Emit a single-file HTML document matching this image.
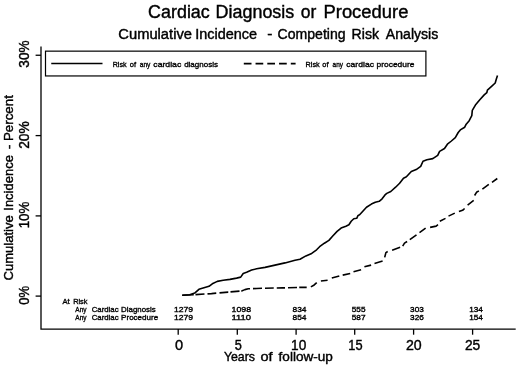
<!DOCTYPE html>
<html><head><meta charset="utf-8"><title>Cardiac Diagnosis or Procedure</title>
<style>
html,body{margin:0;padding:0;background:#fff}
svg{display:block}
text{font-family:"Liberation Sans",Arial,Helvetica,sans-serif;fill:#000;stroke:#000;stroke-width:0.4px;white-space:pre}
.sm{stroke-width:0.35px}
</style></head><body>
<svg width="520" height="368" viewBox="0 0 520 368">
<rect width="520" height="368" fill="#fff"/>
<g stroke="#000" stroke-width="1.3" fill="none" stroke-linecap="butt">
<path d="M41.0,46.4 V329.05 H515.7"/>
<path d="M35.6,296.1 H41.0"/>
<path d="M35.6,215.9 H41.0"/>
<path d="M35.6,135.6 H41.0"/>
<path d="M35.6,55.25 H41.0"/>
<path d="M178.2,329.05 V334.7"/>
<path d="M237.3,329.05 V334.7"/>
<path d="M296.1,329.05 V334.7"/>
<path d="M354.7,329.05 V334.7"/>
<path d="M413.6,329.05 V334.7"/>
<path d="M472.6,329.05 V334.7"/>
<rect x="45.5" y="51.15" width="380.4" height="24.8" stroke-width="1.2"/>
</g>
<path d="M51.25,63.55 H102.5" stroke="#000" stroke-width="1.6" fill="none"/>
<path d="M243.8,63.55 H295.6" stroke="#000" stroke-width="1.7" fill="none" stroke-dasharray="7.7 4.05"/>
<path d="M182.20,295.30 L189.70,294.80 L194.70,293.10 L198.90,289.30 L203.10,288.00 L209.00,286.30 L212.30,283.80 L217.30,281.40 L223.20,280.30 L229.90,279.40 L236.60,278.10 L240.70,277.10 L243.20,273.46 L246.60,272.33 L251.60,270.10 L256.60,268.80 L265.00,267.40 L275.00,265.15 L285.00,262.90 L295.00,260.30 L300.00,259.20 L305.90,255.90 L311.70,253.40 L316.60,249.77 L319.60,246.72 L324.40,243.20 L328.90,240.40 L332.30,236.50 L337.10,231.40 L341.10,228.10 L345.90,226.20 L348.90,224.80 L351.20,221.30 L353.80,218.70 L356.70,218.30 L358.10,215.40 L359.60,214.80 L363.50,210.50 L366.50,207.20 L371.40,204.10 L375.30,202.30 L379.20,201.30 L382.10,198.80 L385.00,194.90 L386.80,193.40 L390.80,191.50 L395.60,187.20 L399.60,183.30 L403.50,178.20 L406.40,176.80 L411.30,171.50 L416.20,169.60 L420.70,166.40 L423.00,161.20 L426.90,159.80 L432.80,158.60 L437.70,155.30 L439.60,151.40 L444.50,148.50 L447.40,144.20 L451.40,141.00 L455.30,137.70 L458.20,132.50 L460.30,129.90 L464.70,127.20 L466.20,124.20 L469.20,120.70 L471.80,115.70 L472.30,110.40 L475.40,105.10 L479.80,99.80 L484.20,94.90 L486.80,92.70 L487.40,90.10 L491.30,86.60 L495.20,83.00 L496.20,79.50 L497.50,75.40" stroke="#000" stroke-width="1.6" fill="none" stroke-linejoin="round"/>
<path d="M182.20,295.30 L193.75,294.75 M195.50,294.65 L204.50,294.06 M207.50,293.86 L211.50,293.60 L216.25,293.17 M219.50,292.88 L228.20,292.10 L228.25,292.10 M230.50,291.91 L239.50,291.17 M241.25,291.03 L241.60,291.00 L244.90,289.63 L248.30,288.81 L250.00,288.75 M253.00,288.63 L256.60,288.50 L262.00,288.31 M265.00,288.20 L273.75,288.05 M276.75,288.00 L282.50,287.90 L285.00,287.83 M288.00,287.74 L297.00,287.49 M299.25,287.42 L300.00,287.40 L306.70,287.40 M310.90,286.90 L314.20,284.95 L316.70,282.57 M320.90,281.00 L327.60,280.20 M331.80,278.10 L339.30,276.00 M342.70,275.10 L350.20,273.50 M353.50,271.80 L361.10,269.80 M364.40,266.80 L371.10,265.10 M374.50,263.40 L382.60,260.96 M384.70,257.40 L385.90,252.60 L387.70,251.50 M392.10,250.30 L400.10,247.30 M402.70,246.20 L404.50,243.20 L407.10,241.50 M409.80,239.70 L416.50,234.90 M419.50,232.60 L425.60,228.20 M430.10,227.40 L436.20,226.10 L438.00,224.70 M439.80,221.20 L445.50,218.40 M448.50,216.10 L454.80,213.10 M458.90,211.60 L462.60,210.30 L464.60,208.50 M467.60,205.10 L473.70,200.40 M474.60,195.50 L476.50,192.30 L478.90,190.90 M482.40,189.10 L488.80,184.40 M492.00,182.40 L497.30,178.50" stroke="#000" stroke-width="1.6" fill="none" stroke-linejoin="round"/>
<text y="18.1" font-size="17.6"><tspan x="148.14" textLength="61.64" lengthAdjust="spacingAndGlyphs">Cardiac</tspan> <tspan x="215.63" textLength="78.60" lengthAdjust="spacingAndGlyphs">Diagnosis</tspan> <tspan x="300.80" textLength="15.55" lengthAdjust="spacingAndGlyphs">or</tspan> <tspan x="323.49" textLength="84.93" lengthAdjust="spacingAndGlyphs">Procedure</tspan></text>
<text y="39.1" font-size="13.8"><tspan x="118.37" textLength="73.58" lengthAdjust="spacingAndGlyphs">Cumulative</tspan> <tspan x="195.25" textLength="61.77" lengthAdjust="spacingAndGlyphs">Incidence</tspan> <tspan x="267.34" textLength="5.16" lengthAdjust="spacingAndGlyphs">-</tspan> <tspan x="277.59" textLength="68.06" lengthAdjust="spacingAndGlyphs">Competing</tspan> <tspan x="351.58" textLength="27.39" lengthAdjust="spacingAndGlyphs">Risk</tspan> <tspan x="385.86" textLength="52.43" lengthAdjust="spacingAndGlyphs">Analysis</tspan></text>
<text y="361.35" font-size="12.7"><tspan x="223.90" textLength="31.13" lengthAdjust="spacingAndGlyphs">Years</tspan> <tspan x="260.51" textLength="12.11" lengthAdjust="spacingAndGlyphs">of</tspan> <tspan x="278.60" textLength="54.30" lengthAdjust="spacingAndGlyphs">follow-up</tspan></text>
<text class="sm" y="67.3" font-size="8.0"><tspan x="112.65" textLength="13.88" lengthAdjust="spacingAndGlyphs">Risk</tspan> <tspan x="129.77" textLength="6.26" lengthAdjust="spacingAndGlyphs">of</tspan> <tspan x="139.69" textLength="10.73" lengthAdjust="spacingAndGlyphs">any</tspan> <tspan x="153.33" textLength="27.92" lengthAdjust="spacingAndGlyphs">cardiac</tspan> <tspan x="184.15" textLength="33.81" lengthAdjust="spacingAndGlyphs">diagnosis</tspan></text>
<text class="sm" y="67.3" font-size="8.0"><tspan x="305.54" textLength="14.18" lengthAdjust="spacingAndGlyphs">Risk</tspan> <tspan x="322.37" textLength="6.16" lengthAdjust="spacingAndGlyphs">of</tspan> <tspan x="332.60" textLength="10.43" lengthAdjust="spacingAndGlyphs">any</tspan> <tspan x="346.33" textLength="27.62" lengthAdjust="spacingAndGlyphs">cardiac</tspan> <tspan x="376.64" textLength="37.76" lengthAdjust="spacingAndGlyphs">procedure</tspan></text>
<text class="sm" y="303.7" font-size="8.0"><tspan x="62.44" textLength="7.18" lengthAdjust="spacingAndGlyphs">At</tspan> <tspan x="73.14" textLength="14.39" lengthAdjust="spacingAndGlyphs">Risk</tspan></text>
<text class="sm" y="311.5" font-size="8.0"><tspan x="75.30" textLength="11.23" lengthAdjust="spacingAndGlyphs">Any</tspan> <tspan x="91.76" textLength="26.82" lengthAdjust="spacingAndGlyphs">Cardiac</tspan> <tspan x="121.11" textLength="34.53" lengthAdjust="spacingAndGlyphs">Diagnosis</tspan></text>
<text class="sm" y="319.6" font-size="8.0"><tspan x="75.30" textLength="11.23" lengthAdjust="spacingAndGlyphs">Any</tspan> <tspan x="91.76" textLength="26.82" lengthAdjust="spacingAndGlyphs">Cardiac</tspan> <tspan x="121.10" textLength="37.07" lengthAdjust="spacingAndGlyphs">Procedure</tspan></text>
<text y="349.8" font-size="14.4"><tspan x="174.95" textLength="8.12" lengthAdjust="spacingAndGlyphs">0</tspan></text>
<text y="349.8" font-size="14.4"><tspan x="234.66" textLength="7.10" lengthAdjust="spacingAndGlyphs">5</tspan></text>
<text y="349.8" font-size="14.4"><tspan x="291.05" textLength="15.20" lengthAdjust="spacingAndGlyphs">10</tspan></text>
<text y="349.8" font-size="14.4"><tspan x="348.31" textLength="14.25" lengthAdjust="spacingAndGlyphs">15</tspan></text>
<text y="349.8" font-size="14.4"><tspan x="405.91" textLength="15.75" lengthAdjust="spacingAndGlyphs">20</tspan></text>
<text y="349.8" font-size="14.4"><tspan x="464.92" textLength="15.38" lengthAdjust="spacingAndGlyphs">25</tspan></text>
<text class="sm" y="311.8" font-size="7.3"><tspan x="173.91" textLength="19.07" lengthAdjust="spacingAndGlyphs">1279</tspan></text>
<text class="sm" y="319.7" font-size="7.3"><tspan x="173.91" textLength="19.07" lengthAdjust="spacingAndGlyphs">1279</tspan></text>
<text class="sm" y="311.8" font-size="7.3"><tspan x="231.50" textLength="19.58" lengthAdjust="spacingAndGlyphs">1098</tspan></text>
<text class="sm" y="319.7" font-size="7.3"><tspan x="231.48" textLength="19.52" lengthAdjust="spacingAndGlyphs">1110</tspan></text>
<text class="sm" y="311.8" font-size="7.3"><tspan x="292.51" textLength="13.91" lengthAdjust="spacingAndGlyphs">834</tspan></text>
<text class="sm" y="319.7" font-size="7.3"><tspan x="292.51" textLength="13.91" lengthAdjust="spacingAndGlyphs">854</tspan></text>
<text class="sm" y="311.8" font-size="7.3"><tspan x="351.80" textLength="13.71" lengthAdjust="spacingAndGlyphs">555</tspan></text>
<text class="sm" y="319.7" font-size="7.3"><tspan x="351.80" textLength="13.71" lengthAdjust="spacingAndGlyphs">587</tspan></text>
<text class="sm" y="311.8" font-size="7.3"><tspan x="410.10" textLength="13.71" lengthAdjust="spacingAndGlyphs">303</tspan></text>
<text class="sm" y="319.7" font-size="7.3"><tspan x="410.10" textLength="13.71" lengthAdjust="spacingAndGlyphs">326</tspan></text>
<text class="sm" y="311.8" font-size="7.3"><tspan x="469.22" textLength="13.71" lengthAdjust="spacingAndGlyphs">134</tspan></text>
<text class="sm" y="319.7" font-size="7.3"><tspan x="469.22" textLength="13.71" lengthAdjust="spacingAndGlyphs">154</tspan></text>
<text transform="translate(13.3,280.51) rotate(-90)" font-size="12.8"><tspan x="0.00" textLength="65.28" lengthAdjust="spacingAndGlyphs">Cumulative</tspan> <tspan x="69.79" textLength="55.60" lengthAdjust="spacingAndGlyphs">Incidence</tspan> <tspan x="131.24" textLength="4.55" lengthAdjust="spacingAndGlyphs">-</tspan> <tspan x="139.53" textLength="45.83" lengthAdjust="spacingAndGlyphs">Percent</tspan></text>
<text transform="translate(28.7,304.82) rotate(-90)" font-size="14.8"><tspan x="0.00" textLength="18.76" lengthAdjust="spacingAndGlyphs">0%</tspan></text>
<text transform="translate(28.7,228.30) rotate(-90)" font-size="14.8"><tspan x="0.00" textLength="26.64" lengthAdjust="spacingAndGlyphs">10%</tspan></text>
<text transform="translate(28.7,148.86) rotate(-90)" font-size="14.8"><tspan x="0.00" textLength="27.51" lengthAdjust="spacingAndGlyphs">20%</tspan></text>
<text transform="translate(28.7,67.63) rotate(-90)" font-size="14.8"><tspan x="0.00" textLength="27.17" lengthAdjust="spacingAndGlyphs">30%</tspan></text>
</svg></body></html>
